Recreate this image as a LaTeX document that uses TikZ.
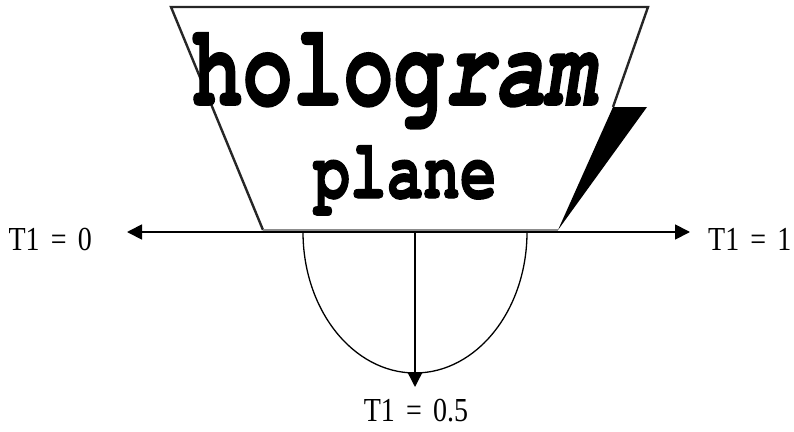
\documentclass[tikz,border=0pt]{standalone}
\usepackage{fontspec}
\setmainfont{Liberation Serif}
\newfontfamily\holofont{texgyrecursor}[
  Extension=.otf,
  UprightFont=*-regular, BoldFont=*-bold,
  ItalicFont=*-italic, BoldItalicFont=*-bolditalic,
  BoldFeatures={FakeBold=1.5}, BoldItalicFeatures={FakeBold=1.5}]
\usetikzlibrary{arrows.meta}

\begin{document}
\begin{tikzpicture}[
  x=1pt, y=-1pt,
  >={Triangle[length=15pt,width=15pt]},
  side/.style={line width=2.4pt, line join=miter, black!85},
  arr/.style={->, line width=1.8pt},
  tval/.style={font=\fontsize{28}{32}\selectfont, inner sep=0pt}
]
\useasboundingbox (0,0) rectangle (794,431);

% the plane
\coordinate (tl) at (171,7);
\coordinate (tr) at (648,7);
\coordinate (kink) at (613,107);
\coordinate (wedge) at (647,107);
\coordinate (bl) at (263,230);
\coordinate (br) at (558,230);
\draw[side] (bl) -- (tl) -- (tr) -- (kink);
\fill (kink) -- (wedge) -- (br) -- cycle;
\draw[line width=3pt, black!45] (bl) -- (br);

\node[inner sep=0pt, anchor=base, font=\holofont\bfseries\fontsize{84}{84}\selectfont] (holo) at (395,105) {\scalebox{1}[1.38]{holog\textit{ram}}};
\node[inner sep=0pt, anchor=base, font=\holofont\bfseries\fontsize{61}{61}\selectfont] (plane) at (405,198) {\scalebox{1}[1.38]{plane}};

% T1 directions
\coordinate (mid) at (415,232);
\coordinate (e0) at (127,232);
\coordinate (e1) at (690,232);
\coordinate (e5) at (415,387);
\draw[arr] (mid) -- (e0);
\draw[arr] (mid) -- (e1);
\draw[line width=1.3pt] (303,232) arc[start angle=180, end angle=360, x radius=112pt, y radius=141pt];
\draw[arr, line width=1.5pt] (mid) -- (e5);

\node[tval, anchor=base east] (t0) at (92,250) {\scalebox{1}[1.2]{T1\hspace{0.4em}=\hspace{0.4em}0}};
\node[tval, anchor=base west] (t1) at (708,250) {\scalebox{1}[1.2]{T1\hspace{0.4em}=\hspace{0.4em}1}};
\node[tval, anchor=base] (t5) at (416,421) {\scalebox{1}[1.2]{T1\hspace{0.4em}=\hspace{0.4em}0.5}};
\end{tikzpicture}
\end{document}
